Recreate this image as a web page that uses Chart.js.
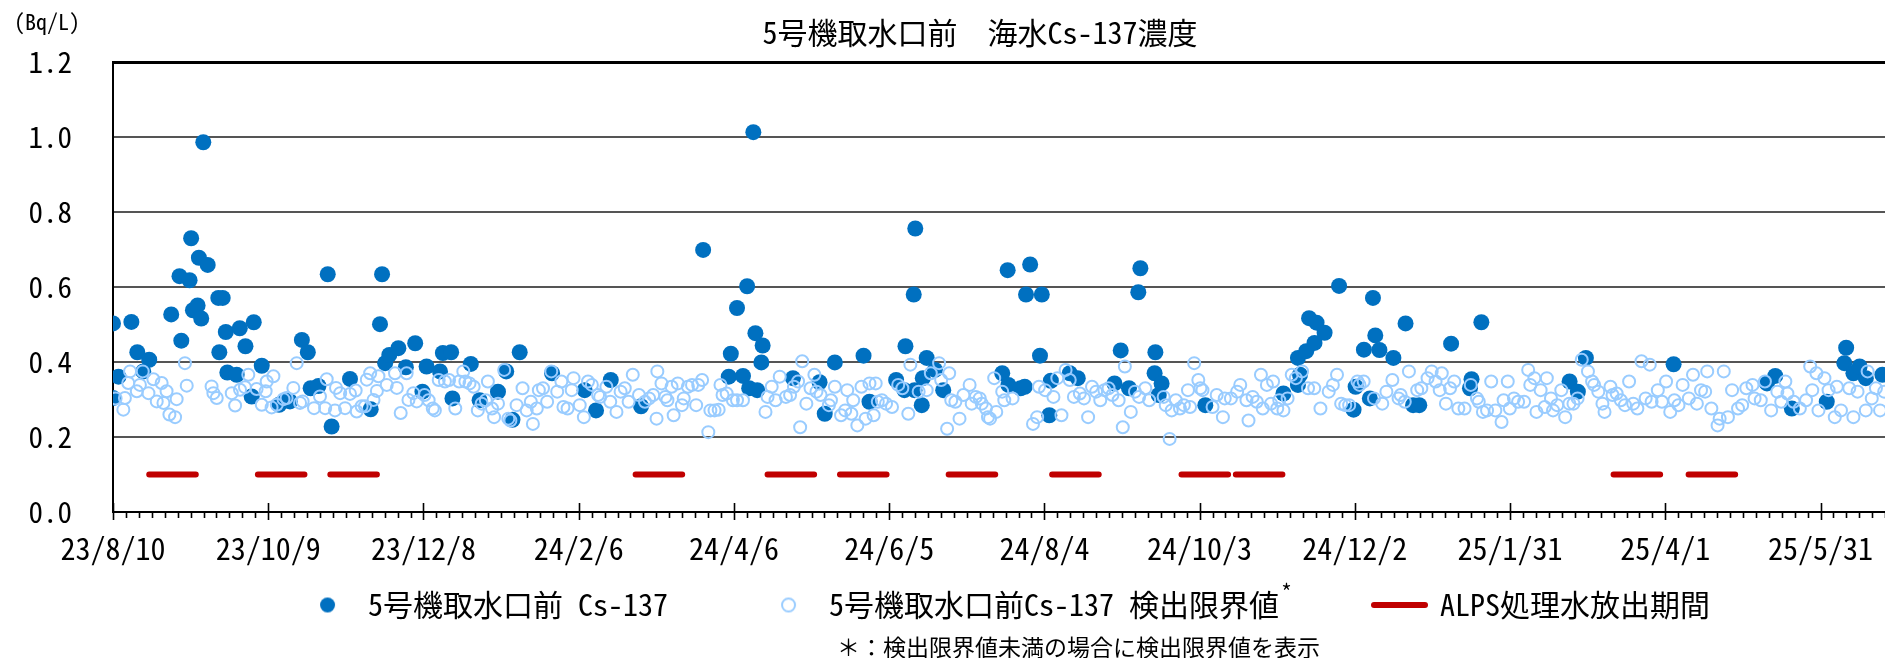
<!DOCTYPE html>
<html lang="ja">
<head>
<meta charset="UTF-8">
<title>5号機取水口前 海水Cs-137濃度</title>
<script src="https://cdn.jsdelivr.net/npm/chart.js@4.4.1/dist/chart.umd.min.js"></script>
<style>
  html, body { margin: 0; padding: 0; background: #fff; overflow: hidden; }
  #wrap { width: 1885px; height: 658px; overflow: hidden; }
</style>
</head>
<body>
<div id="wrap"><canvas id="cs137" width="2022" height="658"></canvas></div>
<script>
const FONT = "'Noto Sans Mono CJK JP', 'Noto Sans CJK JP', sans-serif";

// day 0 of the x axis
const startDate = '2023-08-10';
const xTickLabels = ['23/8/10', '23/10/9', '23/12/8', '24/2/6', '24/4/6', '24/6/5',
                     '24/8/4', '24/10/3', '24/12/2', '25/1/31', '25/4/1', '25/5/31'];

// ALPS treated water discharge periods
const alpsStart = ['2023-08-24', '2023-10-05', '2023-11-02', '2024-02-28', '2024-04-19', '2024-05-17',
                   '2024-06-28', '2024-08-07', '2024-09-26', '2024-10-17', '2025-03-12', '2025-04-10'];
const alpsEnd   = ['2023-09-11', '2023-10-23', '2023-11-20', '2024-03-17', '2024-05-07', '2024-06-04',
                   '2024-07-16', '2024-08-25', '2024-10-14', '2024-11-04', '2025-03-30', '2025-04-28'];

const legendLabels = ['5号機取水口前 Cs-137', '5号機取水口前Cs-137 検出限界値', 'ALPS処理水放出期間'];

// [days since startDate, Bq/L] - detected Cs-137
const detected = [
  [0,.304],[0,.503],[2.1,.361],[7.1,.507],[9.4,.426],[11.7,.375],[14.0,.406],[22.5,.527],[25.7,.629],
  [26.4,.457],[29.6,.618],[30.2,.730],[30.9,.538],[32.7,.551],[33.2,.678],[34.1,.516],[34.9,.986],
  [36.6,.659],[40.7,.571],[41.1,.426],[42.4,.571],[43.6,.480],[44.2,.372],[47.8,.366],[49.0,.490],
  [51.2,.442],[53.6,.308],[54.4,.506],[57.5,.390],[64.2,.286],[66.8,.298],[68.4,.295],[73.0,.459],
  [75.3,.426],[76.4,.330],[79.4,.336],[83.0,.634],[84.5,.228],[91.6,.355],[99.6,.274],[103.2,.501],
  [104.0,.634],[105.2,.397],[106.8,.419],[110.3,.437],[113.2,.386],[116.8,.450],
  [119.6,.321],[121.2,.388],[126.4,.375],[127.5,.424],[130.7,.426],[131.2,.303],[138.3,.395],
  [141.7,.298],[148.8,.321],[152.0,.375],[154.4,.246],[157.2,.426],[169.7,.370],[182.3,.325],
  [186.7,.271],[192.4,.352],
  [204.1,.282],[228.1,.699],[238.0,.361],[238.8,.422],[241.2,.544],[243.5,.363],[245.1,.602],
  [245.9,.330],[247.5,1.013],[248.3,.477],[249.0,.325],[250.6,.399],[251.1,.444],[262.8,.357],
  [273.1,.346],[275.1,.262],[279.0,.399],[290.1,.417],[292.4,.294],[302.7,.352],[305.9,.325],
  [306.3,.442],[309.5,.580],[309.8,.325],[310.1,.756],[312.6,.285],[313.0,.357],[314.5,.411],
  [317.7,.379],[320.9,.325],[343.7,.370],[345.8,.645],[346.1,.339],[350.8,.330],[352.4,.334],
  [352.9,.580],[354.5,.660],[358.3,.417],[359.0,.580],[361.9,.258],[362.5,.350],[369.8,.370],
  [372.9,.357],[387.1,.343],[389.5,.431],[392.7,.330],[396.3,.586],[397.1,.650],[402.6,.370],
  [402.9,.426],[404.2,.312],[405.3,.343],[422.2,.285],
  [452.4,.316],[458.0,.411],[458.0,.339],[458.8,.366],[461.2,.429],[462.3,.517],[464.4,.451],
  [465.2,.505],[468.3,.478],[473.9,.603],[479.5,.273],[480.3,.334],[483.5,.433],[485.8,.303],
  [487.0,.571],[487.9,.471],[489.5,.432],[494.9,.411],[499.6,.503],[502.5,.285],[504.9,.285],
  [517.2,.449],[524.5,.330],[525.1,.354],[528.9,.506],[563.0,.348],[566.2,.321],[569.3,.411],
  [603.2,.394],[639.3,.343],[642.5,.363],[648.9,.276],[662.4,.294],[669.2,.397],[669.9,.438],
  [672.7,.370],[675.1,.388],[677.5,.357],[683.9,.366]
];

// [days since startDate, Bq/L] - detection limit shown when below it
const detectionLimit = [
  [1.0,.303],[4.0,.273],[4.6,.304],[5.9,.344],[6.6,.375],[9.2,.322],[10.4,.339],[11.5,.375],[13.7,.317],
  [15.6,.354],[16.9,.295],[18.8,.344],[19.5,.291],[20.7,.322],[21.8,.260],[24.0,.253],[24.6,.301],
  [27.8,.397],[28.5,.337],[38.1,.335],[38.8,.317],[40.1,.304],[45.9,.317],[47.2,.284],[49.1,.326],
  [51.0,.333],[52.3,.366],[55.5,.328],[57.5,.286],[59.0,.322],[59.4,.348],[61.3,.279],[62.0,.362],
  [63.3,.286],[65.9,.301],[67.1,.304],[69.7,.331],[71.0,.397],[72.3,.291],[73.3,.295],[77.7,.277],
  [80.0,.308],[82.0,.277],[82.6,.354],[85.8,.271],[86.2,.331],[87.8,.317],[89.7,.277],[91.6,.315],
  [93.8,.324],[94.2,.268],[96.1,.282],[97.4,.282],[98.1,.353],[99.4,.370],[100.7,.299],[102.0,.323],
  [102.6,.362],[105.8,.339],[109.0,.370],[109.7,.331],[111.2,.264],[113.5,.370],[114.2,.299],
  [116.1,.317],[117.4,.295],
  [120.4,.312],[122.0,.298],[123.6,.276],[124.4,.271],[125.9,.352],[128.3,.348],[129.9,.352],
  [132.3,.276],[133.8,.348],[135.4,.375],[136.2,.348],[137.8,.343],[139.4,.334],[141.0,.271],
  [142.5,.289],[144.1,.298],[144.9,.348],[146.5,.276],[147.3,.253],[148.8,.289],[151.2,.379],
  [152.8,.249],[153.6,.244],[156.0,.285],[158.3,.330],[159.9,.271],[161.5,.294],[162.3,.235],
  [163.8,.276],[164.6,.325],[166.2,.330],[167.8,.294],[169.4,.375],[171.7,.321],[173.3,.348],
  [174.1,.280],[175.7,.276],[177.3,.325],[178.0,.357],[180.4,.285],[182.0,.253],[183.6,.348],
  [185.1,.339],[187.5,.312],
  [188.3,.307],[190.7,.334],[192.2,.294],[194.6,.267],[196.2,.321],[197.8,.330],[199.3,.294],
  [200.9,.366],[203.3,.312],[205.6,.294],[207.2,.303],[208.8,.312],[210.4,.375],[210.1,.249],
  [212.0,.343],[213.5,.307],[214.3,.298],[215.9,.334],[216.7,.258],[218.3,.343],[219.9,.285],
  [220.6,.303],[222.2,.334],[223.8,.339],[225.4,.285],[226.2,.339],[227.7,.352],[230.1,.213],
  [230.9,.271],[232.5,.271],[234.1,.273],[234.8,.339],[235.6,.312],[237.2,.316],[239.6,.298],
  [241.2,.298],[243.5,.298],
  [252.2,.267],[253.0,.307],[254.6,.334],[256.1,.298],[257.7,.361],[260.1,.307],[261.7,.312],
  [263.2,.334],[264.8,.348],[265.6,.226],[266.4,.402],[268.0,.289],[269.6,.330],[271.1,.366],
  [271.9,.321],[273.5,.312],[276.7,.285],[277.5,.298],[279.0,.334],[281.4,.258],[283.0,.271],
  [283.8,.325],[285.4,.262],[286.1,.298],[287.7,.231],[289.3,.334],[290.9,.249],[292.4,.343],
  [294.0,.258],[294.8,.343],[295.6,.294],[297.2,.298],[298.8,.289],[301.1,.280],[303.5,.339],
  [305.1,.330],[307.4,.262],[308.2,.393],[311.4,.321],[314.5,.325],[316.1,.370],[319.3,.397],
  [320.1,.352],[322.4,.222],[323.2,.370],[324.0,.298],[325.6,.294],[327.2,.249],[328.7,.312],
  [331.1,.339],[331.9,.289],[333.5,.307],[335.0,.303],[335.8,.289],[337.4,.276],[338.2,.253],
  [339.0,.249],[340.6,.357],[341.4,.267],[343.7,.321],[344.5,.298],[347.7,.303],[355.6,.235],
  [357.2,.253],[357.9,.334],[360.3,.325],[363.5,.307],[365.0,.357],[366.6,.258],[368.2,.379],
  [369.8,.352],[371.4,.307],[373.7,.316],[375.3,.303],[376.9,.253],[378.4,.334],[380.0,.321],
  [381.6,.298],[383.2,.325],[384.8,.330],[386.3,.312],[388.7,.298],[390.3,.226],[391.1,.388],
  [393.4,.267],[395.0,.321],[396.6,.307],[399.0,.330],[400.5,.298],[406.1,.307],[406.9,.285],
  [408.4,.195],[409.2,.271],[410.8,.298],[412.4,.276],[413.9,.285],[415.5,.325],[416.3,.280],
  [417.9,.397],[419.5,.352],[420.3,.330],[421.1,.325],[425.0,.280],[426.6,.312],[429.0,.253],
  [429.7,.303],[432.1,.303],[434.5,.321],
  [435.7,.339],[438.1,.298],[438.9,.244],[440.5,.307],[442.1,.294],[443.7,.366],[444.4,.276],
  [446.0,.339],[447.6,.289],[448.4,.348],[450.0,.276],[450.8,.298],[452.4,.271],[454.0,.303],
  [455.6,.366],[457.2,.357],[459.6,.375],[461.9,.330],[464.3,.330],[466.7,.276],[469.9,.321],
  [471.5,.339],[473.1,.366],[474.7,.289],[476.3,.285],[477.8,.285],[481.0,.348],[481.8,.339],
  [483.4,.348],[487.4,.303],[490.6,.289],[492.2,.321],[494.5,.352],[496.9,.303],[497.7,.312],
  [499.3,.294],[500.9,.375],[504.1,.325],[505.7,.330],[508.1,.357],[509.7,.375],[511.2,.348],
  [512.8,.325],[513.6,.370],[515.2,.289],[516.8,.330],[518.4,.348],[520.0,.276],[522.4,.276],
  [524.8,.339],[527.2,.303],[527.9,.294],[529.5,.267],[531.1,.271],[532.7,.348],[534.3,.271],
  [536.7,.240],[537.5,.298],[539.1,.348],[539.9,.276],[541.5,.303],[543.1,.294],[545.4,.294],
  [547.0,.379],[547.8,.339],[549.4,.357],[550.2,.267],[551.8,.325],[553.4,.280],[554.2,.357],
  [555.8,.303],[556.6,.271],[558.2,.285],[559.8,.325],[561.3,.253],[562.9,.289],[564.5,.289],
  [566.1,.303],[567.7,.406],[570.1,.375],[571.7,.348],[572.5,.339],[574.1,.321],[575.7,.289],
  [576.5,.267],[578.8,.334],[579.6,.312],[581.2,.316],[582.8,.298],[584.4,.285],[586.0,.348],
  [587.6,.289],[589.2,.276],[590.8,.402],[592.4,.303],[594.0,.393],[594.7,.294],[597.1,.325],
  [598.7,.294],[600.3,.348],[601.9,.267],[603.5,.298],[605.1,.285],[606.7,.339],[609.1,.303],
  [610.7,.366],[612.2,.289],[613.8,.325],[615.4,.321],[616.2,.375],[617.8,.276],[620.2,.231],
  [621.0,.249],[622.6,.375],[624.2,.253],[625.8,.325],[628.1,.276],[629.7,.285],[631.3,.330],
  [633.7,.339],[634.5,.303],[636.9,.298],[638.5,.348],[640.9,.271],[643.3,.321],[644.8,.294],
  [646.4,.348],[647.2,.316],[649.6,.294],[652.0,.276],[654.4,.298],[656.0,.388],[656.8,.325],
  [658.4,.370],[659.2,.271],[661.5,.357],[663.1,.325],[665.5,.253],[666.3,.334],[667.9,.271],
  [671.1,.330],[672.7,.253],[674.3,.321],[677.5,.271],[678.2,.375],[679.8,.303],[681.4,.330],
  [683.0,.271],[684.6,.321]
];

function dayOf(iso) {
  return Math.round((Date.parse(iso) - Date.parse(startDate)) / 86400000);
}
function dayOfLabel(lbl) {
  const [y, m, d] = lbl.split('/');
  return dayOf('20' + y + '-' + m.padStart(2, '0') + '-' + d.padStart(2, '0'));
}
const tickDays = xTickLabels.map(dayOfLabel);

const alpsLine = [];
alpsStart.forEach((s, i) => {
  const e = dayOf(alpsEnd[i]);
  alpsLine.push({x: dayOf(s), y: 0.1}, {x: e, y: 0.1}, {x: e + 0.5, y: null});
});

function circleIcon(r, fill, stroke, lw) {
  const c = document.createElement('canvas');
  const s = Math.ceil(2 * r + lw + 2);
  c.width = c.height = s;
  const g = c.getContext('2d');
  g.beginPath();
  g.arc(s / 2, s / 2, r, 0, Math.PI * 2);
  if (fill) { g.fillStyle = fill; g.fill(); }
  if (stroke) { g.lineWidth = lw; g.strokeStyle = stroke; g.stroke(); }
  return c;
}

const BLUE = '#0070C0', LIGHT = '#99CCFF', RED = '#C00000';
const GAP = '     '; // extra room between legend entries

const extras = {
  id: 'extras',
  afterDraw(chart) {
    const ctx = chart.ctx, xs = chart.scales.x, ca = chart.chartArea;
    ctx.save();
    // minor ticks every 5 days, long ticks at labelled dates
    ctx.strokeStyle = '#000';
    ctx.lineWidth = 1.6;
    for (let d = 0; d <= xs.max; d += 5) {
      const px = Math.round(xs.getPixelForValue(d)) + 0.5;
      const major = tickDays.includes(d);
      ctx.beginPath();
      ctx.moveTo(px, major ? ca.bottom - 9 : ca.bottom);
      ctx.lineTo(px, ca.bottom + (major ? 8 : 6));
      ctx.stroke();
    }
    ctx.fillStyle = '#000';
    ctx.textBaseline = 'middle';
    ctx.textAlign = 'center';
    ctx.font = '30px ' + FONT;
    ctx.fillText('5号機取水口前　海水Cs-137濃度', 980, 33);
    ctx.font = '22px ' + FONT;
    ctx.fillText('(Bq/L)', 47, 22);
    ctx.textAlign = 'left';
    ctx.font = '23px ' + FONT;
    ctx.fillText('＊：検出限界値未満の場合に検出限界値を表示', 837, 647);
    // superscript asterisk after the detection-limit legend entry
    const hb = chart.legend.legendHitBoxes[1];
    if (hb) {
      ctx.font = '30px ' + FONT;
      const tw = ctx.measureText(legendLabels[1]).width;
      ctx.font = '22px ' + FONT;
      ctx.fillText('*', hb.left + 51 + 15 + tw + 2, hb.top + 2);
    }
    ctx.restore();
  }
};

Chart.defaults.font.family = FONT;
Chart.defaults.color = '#000';

new Chart(document.getElementById('cs137'), {
  type: 'scatter',
  data: {
    datasets: [{
      label: legendLabels[0],
      data: detected.map(p => ({x: p[0], y: p[1]})),
      backgroundColor: BLUE,
      borderColor: BLUE,
      pointRadius: 8,
      pointHoverRadius: 8,
      pointBorderWidth: 0,
      order: 2
    }, {
      label: legendLabels[1],
      data: detectionLimit.map(p => ({x: p[0], y: p[1]})),
      backgroundColor: 'rgba(0,0,0,0)',
      borderColor: LIGHT,
      pointRadius: 6,
      pointHoverRadius: 6,
      pointBorderWidth: 2,
      order: 1
    }, {
      type: 'line',
      label: legendLabels[2],
      data: alpsLine,
      borderColor: RED,
      backgroundColor: RED,
      borderWidth: 6,
      borderCapStyle: 'round',
      pointRadius: 0,
      pointStyle: 'line',
      spanGaps: false,
      order: 3
    }]
  },
  options: {
    responsive: false,
    animation: false,
    events: [],
    layout: { padding: { top: 62, right: 10, bottom: 28, left: 0 } },
    scales: {
      x: {
        type: 'linear',
        min: 0,
        max: 734,
        afterBuildTicks: s => { s.ticks = tickDays.map(v => ({value: v})); },
        afterFit: s => { s.height = 58; },
        ticks: {
          autoSkip: false,
          maxRotation: 0,
          padding: 19,
          font: { size: 30 },
          callback: (v, i) => xTickLabels[i]
        },
        grid: { display: false, drawTicks: false },
        border: { display: true, color: '#000', width: 2 }
      },
      y: {
        min: 0,
        max: 1.2,
        afterFit: s => { s.width = 113; },
        ticks: {
          stepSize: 0.2,
          padding: 41,
          font: { size: 29 },
          callback: v => v.toFixed(1)
        },
        grid: {
          drawTicks: false,
          color: c => c.tick.value > 1.19 ? '#000' : '#555',
          lineWidth: c => c.tick.value > 1.19 ? 3 : 2
        },
        border: { color: '#000', width: 2 }
      }
    },
    plugins: {
      title: { display: false },
      tooltip: { enabled: false },
      legend: {
        position: 'bottom',
        labels: {
          usePointStyle: true,
          pointStyleWidth: 51,
          boxHeight: 11,
          padding: 20,
          font: { size: 30 },
          color: '#000',
          sort: (a, b) => a.datasetIndex - b.datasetIndex,
          generateLabels: chart => {
            const items = Chart.defaults.plugins.legend.labels.generateLabels(chart);
            items.forEach(it => {
              if (it.datasetIndex === 0) {
                it.pointStyle = circleIcon(7.5, BLUE, null, 0);
                it.text += GAP;
              } else if (it.datasetIndex === 1) {
                it.pointStyle = circleIcon(6.5, null, LIGHT, 2);
                it.text += GAP;
              } else {
                it.pointStyle = 'line';
                it.lineWidth = 6;
                it.strokeStyle = RED;
                it.fillStyle = RED;
                it.lineCap = 'round';
              }
            });
            return items;
          }
        }
      }
    }
  },
  plugins: [extras]
});
</script>
</body>
</html>
